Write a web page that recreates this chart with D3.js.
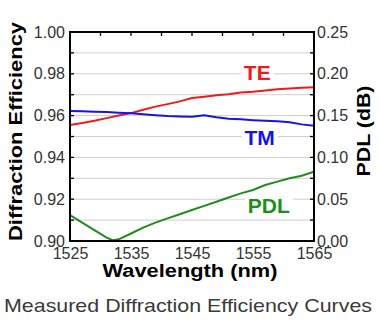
<!DOCTYPE html>
<html>
<head>
<meta charset="utf-8">
<script src="https://cdn.jsdelivr.net/npm/d3@7"></script>
<style>
  body { margin: 0; background: #fff; }
  svg { display: block; font-family: "Liberation Sans", Arial, sans-serif; }
</style>
</head>
<body>
<div id="chart"></div>
<script>
// wavelength grid for TE / TM (nm)
var wl = [1525, 1527, 1529, 1531, 1533, 1535, 1537, 1539, 1541, 1543, 1545,
          1547, 1549, 1551, 1553, 1555, 1557, 1559, 1561, 1563, 1565]
var te = [0.9555, 0.9565, 0.9575, 0.9588, 0.9600, 0.9612, 0.9628, 0.9643, 0.9655, 0.9668, 0.9684,
          0.9690, 0.9697, 0.9702, 0.9710, 0.9714, 0.9720, 0.9726, 0.9730, 0.9733, 0.9736]
var tm = [0.9622, 0.9621, 0.9619, 0.9617, 0.9614, 0.9611, 0.9607, 0.9602, 0.9598, 0.9596, 0.9595,
          0.9602, 0.9592, 0.9585, 0.9582, 0.9578, 0.9575, 0.9573, 0.9568, 0.9558, 0.9552]
// PDL uses its own grid (dip near 1532)
var wlP = [1525, 1527, 1529, 1531, 1532, 1533, 1535, 1537, 1539, 1541, 1543,
           1545, 1547, 1549, 1551, 1553, 1555, 1557, 1559, 1561, 1563, 1565]
var pdl = [0.031, 0.022, 0.013, 0.004, 0.001, 0.002, 0.009, 0.016, 0.022, 0.027, 0.032,
           0.037, 0.042, 0.047, 0.052, 0.057, 0.061, 0.067, 0.071, 0.075, 0.078, 0.083]

var xTicks = [1525, 1535, 1545, 1555, 1565]
var yTicks = [0.90, 0.92, 0.94, 0.96, 0.98, 1.00]
var y2Ticks = [0.00, 0.05, 0.10, 0.15, 0.20, 0.25]

var W = 380, H = 322
var m = {top: 32, right: 66, bottom: 81, left: 70}
var iw = W - m.left - m.right, ih = H - m.top - m.bottom

var svg = d3.select("#chart").append("svg").attr("width", W).attr("height", H)
var g = svg.append("g").attr("transform", "translate(" + m.left + "," + m.top + ")")

var x = d3.scaleLinear().domain([1525, 1565]).range([0, iw])
var y = d3.scaleLinear().domain([0.90, 1.00]).range([ih, 0])
var y2 = d3.scaleLinear().domain([0, 0.25]).range([ih, 0])

// horizontal grid every 0.01
var minorY = d3.range(1, 10).map(i => 0.90 + i * 0.01)
g.append("g").selectAll("line").data(minorY)
  .join("line")
  .attr("x1", 0).attr("x2", iw)
  .attr("y1", d => y(d)).attr("y2", d => y(d))
  .attr("stroke", "#cfcfcf").attr("stroke-width", 1)

var tickLen = 4
var styleText = a => a.selectAll("text").attr("font-size", 16).attr("fill", "#333")
// left axis
g.append("g")
  .call(d3.axisLeft(y).tickValues(yTicks).tickFormat(d3.format(".2f")).tickSize(0).tickPadding(5))
  .call(a => a.select(".domain").remove())
  .call(styleText)
// right axis
g.append("g").attr("transform", "translate(" + iw + ",0)")
  .call(d3.axisRight(y2).tickValues(y2Ticks).tickFormat(d3.format(".2f")).tickSize(0).tickPadding(3))
  .call(a => a.select(".domain").remove())
  .call(styleText)
// bottom axis
g.append("g").attr("transform", "translate(0," + ih + ")")
  .call(d3.axisBottom(x).tickValues(xTicks).tickFormat(d3.format("d")).tickSize(0).tickPadding(7))
  .call(a => a.select(".domain").remove())
  .call(styleText)

// inward tick marks
g.append("g").selectAll("line").data(minorY).join("line")
  .attr("x1", 0).attr("x2", tickLen).attr("y1", d => y(d)).attr("y2", d => y(d))
  .attr("stroke", "#000").attr("stroke-width", 1.3)
g.append("g").selectAll("line").data(minorY).join("line")
  .attr("x1", iw - tickLen).attr("x2", iw).attr("y1", d => y(d)).attr("y2", d => y(d))
  .attr("stroke", "#000").attr("stroke-width", 1.3)
g.append("g").selectAll("line").data(d3.range(1530, 1565, 5)).join("line")
  .attr("x1", d => x(d)).attr("x2", d => x(d)).attr("y1", 0).attr("y2", tickLen)
  .attr("stroke", "#000").attr("stroke-width", 1.3)

// series labels (white backing so grid lines stop at the text)
var labels = [
  {text: "TE", lx: x(1555.7), ly: y(0.977), color: "#f01a1a"},
  {text: "TM", lx: x(1556.1), ly: y(0.946), color: "#1414e6"},
  {text: "PDL", lx: x(1557.6), ly: y2(0.0335), color: "#1e8c1e"}
]
var lab = g.append("g")
labels.forEach(l => {
  var back = lab.append("rect").attr("fill", "#fff")
  var t = lab.append("text").attr("x", l.lx).attr("y", l.ly).attr("text-anchor", "middle")
    .attr("font-size", 21).attr("font-weight", "bold").attr("fill", l.color).text(l.text)
  var b = t.node().getBBox()
  back.attr("x", b.x - 3).attr("y", b.y + 3).attr("width", b.width + 6).attr("height", b.height - 6)
})

// curves
var lineL = d3.line().x((d, i) => x(wl[i])).y(d => y(d))
var lineP = d3.line().x((d, i) => x(wlP[i])).y(d => y2(d))
svg.append("clipPath").attr("id", "clip").append("rect").attr("width", iw).attr("height", ih + 2).attr("y", -1)
var curves = g.append("g").attr("clip-path", "url(#clip)")
curves.append("path").attr("d", lineL(te)).attr("fill", "none").attr("stroke", "#f01a1a").attr("stroke-width", 2)
curves.append("path").attr("d", lineL(tm)).attr("fill", "none").attr("stroke", "#1414e6").attr("stroke-width", 2)
curves.append("path").attr("d", lineP(pdl)).attr("fill", "none").attr("stroke", "#1e8c1e").attr("stroke-width", 2)

// frame
g.append("rect").attr("width", iw).attr("height", ih)
  .attr("fill", "none").attr("stroke", "#000").attr("stroke-width", 2)

// axis titles
svg.append("text").attr("transform", "translate(22," + (m.top + ih / 2 - 5) + ") rotate(-90)")
  .attr("text-anchor", "middle").attr("font-size", 18).attr("font-weight", "bold")
  .attr("textLength", 219).attr("lengthAdjust", "spacingAndGlyphs")
  .text("Diffraction Efficiency")
svg.append("text").attr("transform", "translate(370," + (m.top + 99) + ") rotate(-90)")
  .attr("text-anchor", "middle").attr("font-size", 18).attr("font-weight", "bold")
  .attr("textLength", 91).attr("lengthAdjust", "spacingAndGlyphs")
  .text("PDL (dB)")
svg.append("text").attr("x", 190).attr("y", 277)
  .attr("text-anchor", "middle").attr("font-size", 18).attr("font-weight", "bold")
  .attr("textLength", 175).attr("lengthAdjust", "spacingAndGlyphs")
  .text("Wavelength (nm)")

// caption
svg.append("text").attr("x", 188).attr("y", 312)
  .attr("text-anchor", "middle").attr("font-size", 19).attr("fill", "#3a3a3a")
  .attr("textLength", 368).attr("lengthAdjust", "spacingAndGlyphs")
  .text("Measured Diffraction Efficiency Curves")
</script>
</body>
</html>
